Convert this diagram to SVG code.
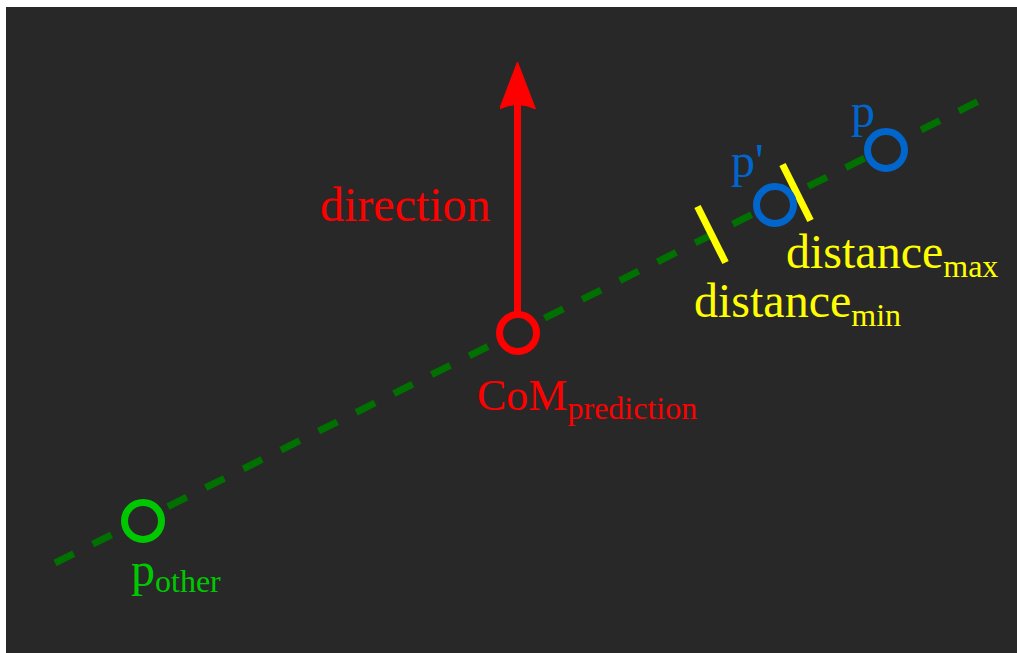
<svg xmlns="http://www.w3.org/2000/svg" width="1017" height="653" viewBox="0 0 1017 653">
<style>
text{font-family:"Liberation Serif","Times New Roman",serif;font-size:48px}
.sub{font-size:32px}
.ring{fill:#282828;stroke-width:7}
.tick{stroke:#ffff00;stroke-width:7}
</style>
<defs>
<marker id="ah" viewBox="0 0 47 36" markerWidth="47" markerHeight="36" markerUnits="userSpaceOnUse" refX="9" refY="18" orient="auto">
<path d="M0,0 L47,18 L0,36 Q9,18 0,0 Z" fill="#ff0000" stroke="#ff0000" stroke-width="1" stroke-linejoin="round"/>
</marker>
</defs>
<rect x="0" y="0" width="1017" height="653" fill="#ffffff"/>
<rect x="6" y="7" width="1011" height="646" fill="#282828"/>
<g id="connectors">
<line x1="55" y1="563" x2="978" y2="101.5" stroke="#007000" stroke-width="7" stroke-dasharray="21 21.1"/>
<line x1="517.5" y1="314" x2="517.5" y2="100" stroke="#ff0000" stroke-width="7" marker-end="url(#ah)"/>
<line class="tick" x1="697.5" y1="206.5" x2="725.5" y2="262.5"/>
<line class="tick" x1="782.5" y1="164.5" x2="810.5" y2="220.5"/>
</g>
<g id="com">
<circle class="ring" cx="518" cy="333" r="18.5" stroke="#ff0000"/>
<text x="477" y="410" fill="#ff0000"><tspan font-size="44">CoM</tspan><tspan class="sub" dy="9">prediction</tspan></text>
</g>
<g id="direction">
<text x="320" y="221" fill="#ff0000">direction</text>
</g>
<g id="p-prime">
<circle class="ring" cx="775" cy="205" r="18.5" stroke="#0066cc"/>
<text x="731" y="177" fill="#0066cc">p'</text>
</g>
<g id="p">
<circle class="ring" cx="886" cy="150" r="18.5" stroke="#0066cc"/>
<text x="851" y="127" fill="#0066cc">p</text>
</g>
<g id="p-other">
<circle class="ring" cx="143" cy="521" r="18.5" stroke="#00c800"/>
<text x="131" y="586" fill="#00c800">p<tspan class="sub" dy="6">other</tspan></text>
</g>
<g id="distance-max">
<text x="786" y="268" fill="#ffff00">distance<tspan class="sub" dy="9">max</tspan></text>
</g>
<g id="distance-min">
<text x="694" y="317" fill="#ffff00">distance<tspan class="sub" dy="9">min</tspan></text>
</g>
</svg>
